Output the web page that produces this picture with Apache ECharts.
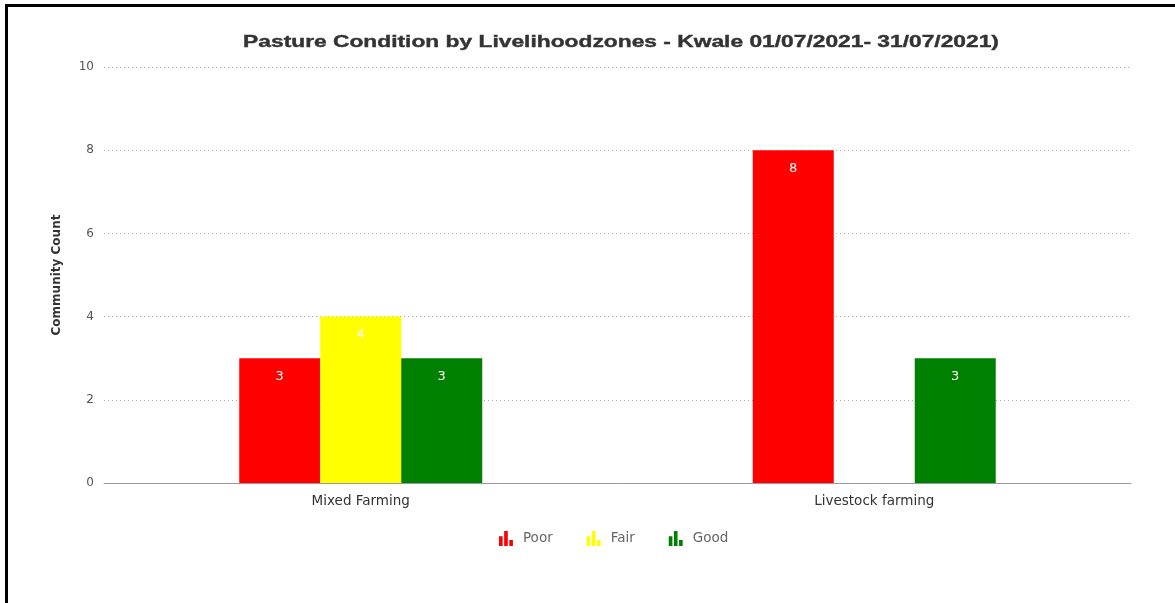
<!DOCTYPE html>
<html>
<head>
<meta charset="utf-8">
<script src="https://cdn.jsdelivr.net/npm/echarts@6/dist/echarts.min.js"></script>
<style>
  html, body { margin: 0; padding: 0; background: #fff; }
  #wrap { position: relative; width: 1175px; height: 603px; overflow: hidden; }
  #chart { position: absolute; left: 0; top: 0; width: 1175px; height: 603px; }
  #frame { position: absolute; left: 5px; top: 4px; right: -10px; bottom: -10px;
           border-left: 3px solid #000; border-top: 3px solid #000; pointer-events: none; }
</style>
</head>
<body>
<div id="wrap">
  <div id="chart"></div>
  <div id="frame"></div>
</div>
<script>
// Livelihood zones and pasture condition counts
const zones = ['Mixed Farming', 'Livestock farming'];
const poor = [3, 8];
const fair = [4, 0];
const good = [3, 3];
const yTicks = { min: 0, max: 10, interval: 2 };
const titleText = 'Pasture Condition by Livelihoodzones - Kwale 01/07/2021- 31/07/2021)';

const barIcon = 'path://M0,5H3.4V14H0Z M4.8,0H8.2V14H4.8Z M9.6,8.5H13V14H9.6Z';

function makeSeries(name, data, color) {
  return {
    name: name,
    type: 'bar',
    data: data,
    barWidth: 81,
    barGap: '0%',
    itemStyle: { color: color },
    label: {
      show: true,
      position: 'insideTop',
      distance: 12,
      color: '#fff',
      fontSize: 13,
      fontFamily: 'DejaVu Sans',
      formatter: p => (p.value ? String(p.value) : '')
    }
  };
}

const chart = echarts.init(document.getElementById('chart'), null, { renderer: 'canvas' });
chart.setOption({
  animation: false,
  backgroundColor: '#fff',
  // wide, bold heading centred over the plot
  graphic: [{
    type: 'text',
    x: 621,
    y: 42,
    scaleX: 1.34,
    style: {
      text: titleText,
      font: 'bold 17px "Liberation Sans"',
      fill: '#333',
      stroke: '#333',
      lineWidth: 0.4,
      align: 'center',
      verticalAlign: 'middle'
    }
  }],
  legend: {
    top: 526,
    left: 494,
    itemWidth: 16,
    itemHeight: 15,
    itemGap: 34,
    icon: barIcon,
    textStyle: { fontFamily: 'DejaVu Sans', fontSize: 13.5, color: '#666', padding: [0, 0, 0, 4] },
    data: ['Poor', 'Fair', 'Good']
  },
  grid: { left: 104, right: 44, top: 67, bottom: 120, containLabel: false },
  xAxis: {
    type: 'category',
    data: zones,
    axisLine: { lineStyle: { color: '#999', width: 1 } },
    axisTick: { show: false },
    axisLabel: { fontFamily: 'DejaVu Sans', fontSize: 13.5, color: '#333', margin: 11 }
  },
  yAxis: {
    type: 'value',
    min: yTicks.min,
    max: yTicks.max,
    interval: yTicks.interval,
    name: 'Community Count',
    nameLocation: 'middle',
    nameGap: 41,
    nameTextStyle: { fontFamily: 'DejaVu Sans', fontSize: 12, fontWeight: 'bold', color: '#333' },
    axisLine: { show: false },
    axisTick: { show: false },
    axisLabel: { fontFamily: 'DejaVu Sans', fontSize: 12, color: '#555', margin: 10 },
    splitLine: { lineStyle: { color: '#aaa', type: [1, 3], width: 1 } }
  },
  series: [
    makeSeries('Poor', poor, '#ff0000'),
    makeSeries('Fair', fair, '#ffff00'),
    makeSeries('Good', good, '#008000')
  ]
});
</script>
</body>
</html>
